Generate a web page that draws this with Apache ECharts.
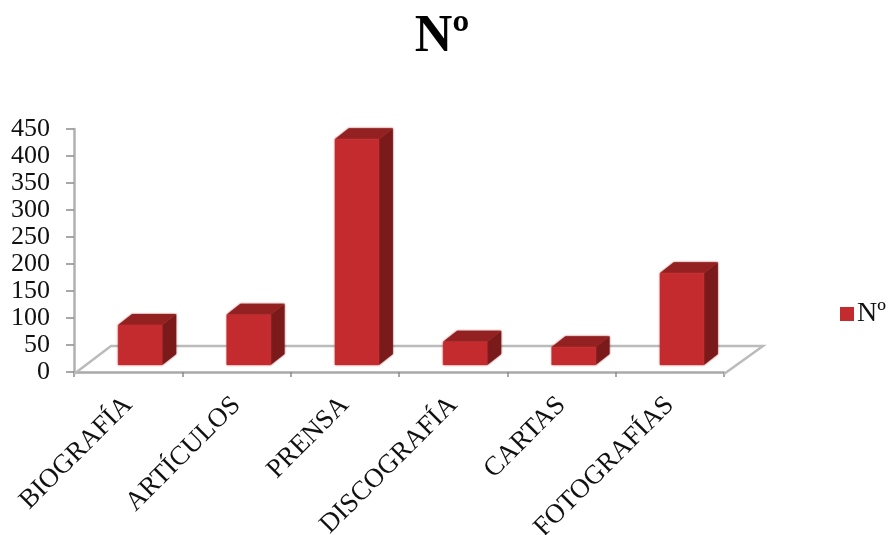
<!DOCTYPE html>
<html><head><meta charset="utf-8">
<style>html,body{margin:0;padding:0;background:#fff}#c{width:890px;height:535px}</style>
<script src="https://cdn.jsdelivr.net/npm/echarts@6/dist/echarts.min.js"></script>
</head><body><div id="c"></div>
<script>
const categories = ['BIOGRAFÍA','ARTÍCULOS','PRENSA','DISCOGRAFÍA','CARTAS','FOTOGRAFÍAS'];
const values = [74, 93, 418, 43, 33, 170];
const seriesName = 'Nº';
const yTicks = {min:0, max:450, interval:50};
const FONT = '"Liberation Serif","Times New Roman",serif';
const DX = 14, DY = 11, BAR_W = 44, SHIFT_X = 12, SHIFT_Y = -7;

function face(color){ return {fill:color, shadowBlur:2, shadowColor:color}; }
function renderBar(params, api){
  const i = api.value(0);
  const top = api.coord([i, api.value(1)]);
  const base = api.coord([i, 0]);
  const l = top[0] + SHIFT_X - BAR_W/2, r = l + BAR_W;
  const t = top[1] + SHIFT_Y, b = base[1] + SHIFT_Y;
  return {type:'group', children:[
    {type:'polygon', shape:{points:[[r,t],[r+DX,t-DY],[r+DX,b-DY],[r,b]]}, style:face('#7a1a1a')},
    {type:'polygon', shape:{points:[[l,t],[l+DX,t-DY],[r+DX,t-DY],[r,t]]}, style:face('#932121')},
    {type:'rect', shape:{x:l,y:t,width:BAR_W,height:b-t}, style:face('#c32b2e')}
  ]};
}
function renderFloor(params, api){
  const c = params.coordSys;
  const x0 = c.x, x1 = c.x + c.width, y = c.y + c.height + 2;
  const d = 28, dx = 37;
  const st = {stroke:'#bbbbbb', fill:'none', lineWidth:2.5};
  return {type:'group', children:[
    {type:'polyline', shape:{points:[[x0,y],[x0+dx,y-d],[x1+dx+2,y-d],[x1,y]]}, style:st}
  ]};
}
const chart = echarts.init(document.getElementById('c'), null, {renderer:'canvas'});
chart.setOption({
  animation:false,
  backgroundColor:'#fff',
  title:{text:seriesName, left:437, top:7, textAlign:'center',
    textStyle:{fontFamily:FONT, fontWeight:'bold', fontSize:52, color:'#000'}},
  legend:{data:[{name:seriesName, icon:'rect'}], left:835, top:295, itemWidth:14, itemHeight:14, itemGap:4,
    textStyle:{fontFamily:FONT, fontSize:28, color:'#111', padding:[0,0,0,-2]}},
  grid:{left:74, top:129, width:650, height:243, containLabel:false, outerBoundsMode:'none'},
  xAxis:{type:'category', data:categories, offset:2,
    axisLine:{lineStyle:{color:'#a9a9a9', width:2.5}},
    axisTick:{show:true, length:5, alignWithLabel:false, lineStyle:{color:'#8c8c8c', width:1.5}},
    axisLabel:{rotate:45, interval:0, margin:27, fontFamily:FONT, fontSize:27, color:'#111'}},
  yAxis:{type:'value', min:yTicks.min, max:yTicks.max, interval:yTicks.interval,
    splitLine:{show:false},
    axisLine:{show:true, lineStyle:{color:'#b0b0b0', width:2.5}},
    axisTick:{show:true, length:8, lineStyle:{color:'#8c8c8c', width:1.5}},
    axisLabel:{margin:24, fontFamily:FONT, fontSize:26, color:'#111', padding:[6,0,0,0]}},
  series:[
    {type:'custom', name:'floor', silent:true, z:1, renderItem:renderFloor, data:[[0,0]], encode:{x:0,y:1}},
    {type:'custom', name:seriesName, z:2, renderItem:renderBar, itemStyle:{color:'#c32b2e'},
      data:values.map((v,i)=>[i,v]), encode:{x:0,y:1}}
  ]
});
</script></body></html>
